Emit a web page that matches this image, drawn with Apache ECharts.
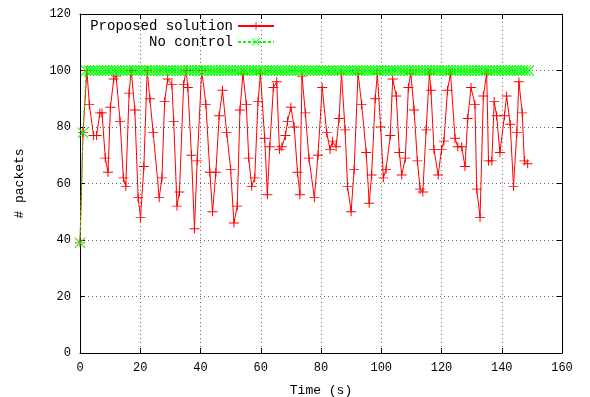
<!DOCTYPE html>
<html>
<head>
<meta charset="utf-8">
<script src="https://cdn.jsdelivr.net/npm/echarts@6/dist/echarts.min.js"></script>
<style>
  html, body { margin: 0; padding: 0; background: #fff; }
  #main { width: 590px; height: 397px; }
</style>
</head>
<body>
<div id="main"></div>
<script>
// chart data
const proposedTime = [0, 1, 2.3, 3.1, 4.5, 5.5, 6.6, 7.3, 8.4, 9.3, 10.1, 11.2, 12, 13.3, 14.4, 15.2, 16.3, 17, 18.2, 19.3,
    20.1, 21.2, 22.3, 23.2, 24.3, 26.3, 27.2, 28.1, 29.1, 30.5, 31.1, 32.2, 33, 34.4, 35.2, 35.8, 37, 38, 38.9, 40.4,
    41.8, 43.1, 44, 45.1, 46.2, 47.3, 48.7, 50, 51.1, 52.2, 53.1, 54.1, 55.2, 56, 57, 58, 59.1, 59.9, 61.3, 62.2,
    63, 64.2, 65.3, 66.2, 67, 68.2, 68.9, 70, 71.1, 72.2, 73, 73.7, 74.8, 76, 77.8, 79, 80.4, 81.9, 83, 83.8,
    85, 86, 86.8, 88, 88.8, 90, 91, 92.3, 93.5, 95, 96, 96.8, 98, 98.7, 99.8, 100.7, 101.6, 103, 103.8, 105,
    106, 106.8, 108, 109, 109.8, 110.9, 112, 112.9, 113.8, 114.9, 116, 116.5, 117.5, 118.9, 120, 120.8, 122, 123, 124.5, 125.4,
    126.7, 127.8, 128.7, 129.8, 131.1, 131.7, 132.8, 133.9, 135, 135.6, 136.7, 137.5, 138.3, 139.4, 140.9, 141.6, 142.8, 143.9, 145, 145.7,
    146.8, 147.5, 148.6];
const proposedPackets = [39, 78, 100, 88, 77, 77, 85, 85, 69, 64, 87, 97, 98, 82, 62, 59, 92, 100, 86, 55,
    48, 66, 100, 90, 78, 55, 62, 89, 97, 95, 82, 52, 57, 95, 100, 94, 70, 44, 68, 100,
    88, 64, 50, 64, 84, 93, 78, 65, 46, 52, 86, 99, 88, 69, 59, 62, 89, 99, 76, 56,
    73, 94, 96, 72, 73, 77, 82, 87, 80, 64, 56, 98, 85, 69, 55, 70, 94, 78, 72, 75,
    73, 83, 99, 79, 59, 50, 65, 99, 88, 71, 53, 63, 90, 99, 80, 62, 65, 77, 97, 91,
    71, 63, 69, 94, 99, 86, 68, 58, 57, 79, 99, 93, 72, 63, 72, 75, 93, 99, 76, 73,
    73, 66, 83, 94, 88, 58, 48, 91, 99, 68, 68, 89, 84, 71, 84, 91, 81, 59, 78, 96,
    85, 68, 67];
// one sample per second, starting at t = 0 (150 samples)
const noControlPackets = [39, 78, 100, 100, 100, 100, 100, 100, 100, 100,
    100, 100, 100, 100, 100, 100, 100, 100, 100, 100, 100, 100, 100, 100, 100, 100, 100, 100, 100, 100,
    100, 100, 100, 100, 100, 100, 100, 100, 100, 100, 100, 100, 100, 100, 100, 100, 100, 100, 100, 100,
    100, 100, 100, 100, 100, 100, 100, 100, 100, 100, 100, 100, 100, 100, 100, 100, 100, 100, 100, 100,
    100, 100, 100, 100, 100, 100, 100, 100, 100, 100, 100, 100, 100, 100, 100, 100, 100, 100, 100, 100,
    100, 100, 100, 100, 100, 100, 100, 100, 100, 100, 100, 100, 100, 100, 100, 100, 100, 100, 100, 100,
    100, 100, 100, 100, 100, 100, 100, 100, 100, 100, 100, 100, 100, 100, 100, 100, 100, 100, 100, 100,
    100, 100, 100, 100, 100, 100, 100, 100, 100, 100,
    100, 100, 100, 100, 100, 100, 100, 100, 100, 100];

const font = 'Liberation Mono';
const plus = 'path://M0,4.5h10v1h-10zM4.5,0h1v10h-1z';
const cross = 'path://M0,0.7L0.7,0L5,4.3L9.3,0L10,0.7L5.7,5L10,9.3L9.3,10L5,5.7L0.7,10L0,9.3L4.3,5z';

const gridLine = { show: true, lineStyle: { color: '#666', type: [1, 3], width: 1 } };
const axisLine = { show: true, onZero: false, lineStyle: { color: '#000', width: 1 } };
const ticks = { show: true, inside: true, length: 5, lineStyle: { color: '#000' } };
const labelStyle = { color: '#000', fontFamily: font, fontSize: 12, margin: 9 };
const legendText = { fontFamily: font, fontSize: 14, color: '#000' };

let option = {
    animation: false,
    backgroundColor: '#fff',
    grid: { left: 80, right: 28, top: 14, bottom: 44, outerBoundsMode: 'none', containLabel: false },
    legend: [{
        data: ['Proposed solution'], right: 310, top: 14, align: 'right',
        itemWidth: 36, itemHeight: 10, itemGap: 4, textStyle: legendText
    }, {
        data: ['No control'], right: 310, top: 30, align: 'right',
        itemWidth: 36, itemHeight: 10, itemGap: 4, textStyle: legendText
    }],
    xAxis: [{
        type: 'value', min: 0, max: 160, interval: 20,
        name: 'Time (s)', nameLocation: 'middle', nameGap: 31,
        nameTextStyle: { fontFamily: font, fontSize: 13, color: '#000' },
        axisLine: axisLine, axisTick: ticks, splitLine: gridLine,
        axisLabel: labelStyle
    }, {
        type: 'value', position: 'top', min: 0, max: 160, interval: 20,
        axisLine: axisLine, axisTick: ticks, splitLine: { show: false },
        axisLabel: { show: false }
    }],
    yAxis: [{
        type: 'value', min: 0, max: 120, interval: 20,
        name: '# packets', nameLocation: 'middle', nameGap: 54,
        nameTextStyle: { fontFamily: font, fontSize: 13, color: '#000' },
        axisLine: axisLine, axisTick: ticks, splitLine: gridLine,
        axisLabel: labelStyle
    }, {
        type: 'value', position: 'right', min: 0, max: 120, interval: 20,
        axisLine: axisLine, axisTick: ticks, splitLine: { show: false },
        axisLabel: { show: false }
    }],
    series: [{
        name: 'Proposed solution', type: 'line',
        data: proposedTime.map((t, i) => [t, proposedPackets[i]]),
        symbol: plus, symbolSize: [10, 9], showAllSymbol: true,
        lineStyle: { color: '#ff0000', width: 1 },
        itemStyle: { color: '#ff0000' }
    }, {
        name: 'No control', type: 'line',
        data: noControlPackets.map((v, i) => [i, v]),
        symbol: cross, symbolSize: 11, showAllSymbol: true,
        lineStyle: { color: '#00ff00', width: 1, type: [3, 2] },
        itemStyle: { color: '#00ff00' }
    }]
};

let myChart = echarts.init(document.getElementById('main'));
myChart.setOption(option);
</script>
</body>
</html>
